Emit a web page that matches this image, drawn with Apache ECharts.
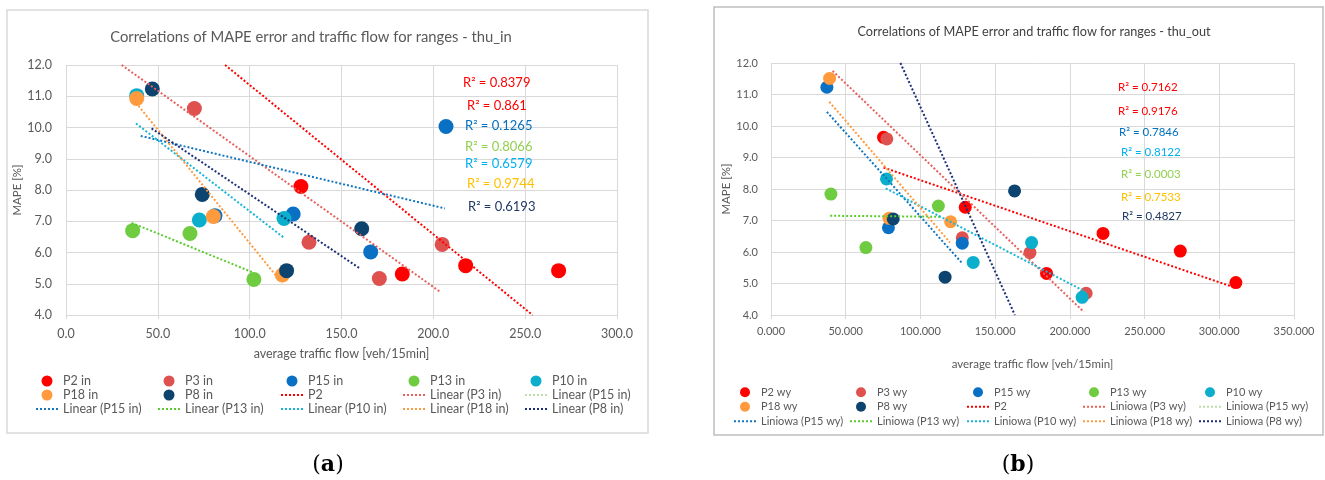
<!DOCTYPE html>
<html><head><meta charset="utf-8">
<script src="https://cdn.jsdelivr.net/npm/echarts@6/dist/echarts.min.js"></script>
<style>html,body{margin:0;padding:0;background:#fff}#c{width:1325px;height:480px}</style>
</head><body><div id="c"></div>
<script>
// ---------- tick labels ----------
const xTickLabelsA = ['0.0','50.0','100.0','150.0','200.0','250.0','300.0'];
const xTickLabelsB = ['0.000','50.000','100.000','150.000','200.000','250.000','300.000','350.000'];
const yTickLabels = ['4.0','5.0','6.0','7.0','8.0','9.0','10.0','11.0','12.0'];

// ---------- panel (a): thu_in  [flow, MAPE] ----------
const p2In  = [[127.9,8.11],[183.1,5.31],[217.6,5.58],[268.2,5.42]];
const p3In  = [[69.9,10.61],[132.3,6.33],[170.6,5.17],[204.8,6.26]];
const p15In = [[81.1,7.18],[123.7,7.23],[165.9,6.02],[206.9,10.03]];
const p13In = [[36.3,6.70],[67.5,6.61],[102.3,5.14]];
const p10In = [[38.5,11.02],[72.6,7.04],[118.7,7.09]];
const p18In = [[38.5,10.93],[80.2,7.15],[117.8,5.28]];
const p8In  = [[47.0,11.23],[74.2,7.86],[120.1,5.42],[161.0,6.76]];
// trend line end points
const trendP2In  = [[86.6,12.0],[254.0,4.0]];
const trendP3In  = [[30.3,12.0],[204.0,4.73]];
const trendP15In = [[40.7,9.73],[206.3,7.41]];
const trendP13In = [[35.7,6.95],[102.3,5.35]];
const trendP10In = [[38.1,10.13],[118.3,6.49]];
const trendP18In = [[38.1,10.79],[117.8,5.01]];
const trendP8In  = [[46.6,9.97],[160.0,5.49]];
const r2TextsA = ['R² = 0.8379','R² = 0.861','R² = 0.1265','R² = 0.8066','R² = 0.6579','R² = 0.9744','R² = 0.6193'];

// ---------- panel (b): thu_out ----------
const p2Wy  = [[75.3,9.64],[130.0,7.42],[184.4,5.32],[222.2,6.59],[273.9,6.03],[311.1,5.03]];
const p3Wy  = [[77.5,9.59],[128.0,6.45],[173.3,5.98],[210.9,4.69]];
const p15Wy = [[37.4,11.23],[78.6,6.77],[128.0,6.28]];
const p13Wy = [[40.1,7.84],[63.5,6.14],[112.0,7.46]];
const p10Wy = [[77.3,8.32],[135.3,5.67],[174.4,6.30],[208.2,4.56]];
const p18Wy = [[39.2,11.51],[79.0,7.07],[120.2,6.96]];
const p8Wy  = [[81.8,7.05],[116.5,5.20],[163.0,7.94]];
const trendP2Wy  = [[75.3,8.68],[307.3,4.92]];
const trendP3Wy  = [[41.2,11.75],[209.3,4.10]];
const trendP15Wy = [[37.4,10.45],[128.0,5.64]];
const trendP13Wy = [[39.6,7.15],[113.6,7.12]];
const trendP10Wy = [[76.8,8.02],[210.4,4.74]];
const trendP18Wy = [[39.0,10.77],[119.8,6.30]];
const trendP8Wy  = [[86.6,12.0],[163.2,4.0]];
const r2TextsB = ['R² = 0.7162','R² = 0.9176','R² = 0.7846','R² = 0.8122','R² = 0.0003','R² = 0.7533','R² = 0.4827'];

// ---------- styling ----------
const FONT = 'Lato, "Open Sans", sans-serif';
const GRAY = '#595959';
const COL = {P2:'#FF0000',P3:'#DE514E',P15:'#0A70C4',P13:'#6FCC41',P10:'#0BAFCB',P18:'#FF9A3D',P8:'#0D446F'};
const TCOL = {P2:'#FF0000',P3:'#E8605A',P15:'#1276C0',P13:'#5ACB2E',P10:'#16B6D8',P18:'#FF9A3D',P8:'#1B2F7A',pale:'#BFDDA8'};
const R2COL_A = ['#FF0000','#FF0000','#0070C0','#92D050','#00B0F0','#FFC000','#1F3864'];
const R2COL_B = ['#FF0000','#FF0000','#0070C0','#00B0F0','#92D050','#FFC000','#1F3864'];

function scatter(name, data, color, idx, size){
  return {type:'scatter', name, data, xAxisIndex:idx, yAxisIndex:idx, symbol:'circle', symbolSize:size,
          itemStyle:{color, opacity:1}, z:2, silent:true};
}
function trend(name, data, color, idx, width){
  return {type:'line', name, data, xAxisIndex:idx, yAxisIndex:idx, symbol:'none', z:3, silent:true,
          lineStyle:{color, width: width||2, type:[2,2]}, itemStyle:{color}};
}

const series = [
  scatter('P2 in', p2In, COL.P2, 0, 15),
  scatter('P3 in', p3In, COL.P3, 0, 15),
  scatter('P15 in', p15In, COL.P15, 0, 15),
  scatter('P13 in', p13In, COL.P13, 0, 15),
  scatter('P10 in', p10In, COL.P10, 0, 15),
  scatter('P18 in', p18In, COL.P18, 0, 15),
  scatter('P8 in', p8In, COL.P8, 0, 15),
  trend('P2', trendP2In, TCOL.P2, 0),
  trend('Linear (P3 in)', trendP3In, TCOL.P3, 0),
  trend('Linear (P15 in) ', [], TCOL.pale, 0, 1),
  trend('Linear (P15 in)', trendP15In, TCOL.P15, 0),
  trend('Linear (P13 in)', trendP13In, TCOL.P13, 0),
  trend('Linear (P10 in)', trendP10In, TCOL.P10, 0),
  trend('Linear (P18 in)', trendP18In, TCOL.P18, 0),
  trend('Linear (P8 in)', trendP8In, TCOL.P8, 0),

  scatter('P2 wy', p2Wy, COL.P2, 1, 13),
  scatter('P3 wy', p3Wy, COL.P3, 1, 13),
  scatter('P15 wy', p15Wy, COL.P15, 1, 13),
  scatter('P13 wy', p13Wy, COL.P13, 1, 13),
  scatter('P10 wy', p10Wy, COL.P10, 1, 13),
  scatter('P18 wy', p18Wy, COL.P18, 1, 13),
  scatter('P8 wy', p8Wy, COL.P8, 1, 13),
  trend('P2', trendP2Wy, TCOL.P2, 1),
  trend('Liniowa (P3 wy)', trendP3Wy, TCOL.P3, 1),
  trend('Liniowa (P15 wy) ', [], TCOL.pale, 1, 1),
  trend('Liniowa (P15 wy)', trendP15Wy, TCOL.P15, 1),
  trend('Liniowa (P13 wy)', trendP13Wy, TCOL.P13, 1),
  trend('Liniowa (P10 wy)', trendP10Wy, TCOL.P10, 1),
  trend('Liniowa (P18 wy)', trendP18Wy, TCOL.P18, 1),
  trend('Liniowa (P8 wy)', trendP8Wy, TCOL.P8, 1)
];
const lineNames = new Set(series.filter(s=>s.type==='line').map(s=>s.name));

const legColsA = [
  ['P2 in','P18 in','Linear (P15 in)'],
  ['P3 in','P8 in','Linear (P13 in)'],
  ['P15 in','P2','Linear (P10 in)'],
  ['P13 in','Linear (P3 in)','Linear (P18 in)'],
  ['P10 in','Linear (P15 in) ','Linear (P8 in)']
];
const legColsB = [
  ['P2 wy','P18 wy','Liniowa (P15 wy)'],
  ['P3 wy','P8 wy','Liniowa (P13 wy)'],
  ['P15 wy','P2','Liniowa (P10 wy)'],
  ['P13 wy','Liniowa (P3 wy)','Liniowa (P18 wy)'],
  ['P10 wy','Liniowa (P15 wy) ','Liniowa (P8 wy)']
];
const legLeftA = [35,157,280,402,524];
const legLeftB = [733,849,966,1082,1198];
function legItems(c){
  return c.map(n => lineNames.has(n) ? {name:n, itemStyle:{opacity:0, borderWidth:0}} : {name:n});
}
const legend = [];
legColsA.forEach((c,i)=>legend.push({data:legItems(c), orient:'vertical', left:legLeftA[i], top:374, padding:0, itemWidth:22, itemHeight:11, itemGap:0,
  selectedMode:false, textStyle:{color:GRAY, fontSize:12.5, fontFamily:FONT, lineHeight:14}}));
legColsB.forEach((c,i)=>legend.push({data:legItems(c), orient:'vertical', left:legLeftB[i], top:385, padding:0, itemWidth:22, itemHeight:10, itemGap:0,
  selectedMode:false, textStyle:{color:GRAY, fontSize:11, fontFamily:FONT, lineHeight:14.5}}));

function xAxis(idx, max, labels, fs, margin, nameGap, nameFs){
  return {type:'value', gridIndex:idx, min:0, max, interval:50,
    name:'average traffic flow [veh/15min]', nameLocation:'middle', nameGap,
    nameTextStyle:{color:GRAY, fontSize:nameFs, fontFamily:FONT},
    axisLine:{show:true, lineStyle:{color:'#D9D9D9'}},
    axisTick:{show:true, length:4, lineStyle:{color:'#D9D9D9'}},
    axisLabel:{color:GRAY, fontSize:fs, fontFamily:FONT, margin, formatter:v=>labels[Math.round(v/50)]},
    splitLine:{show:true, lineStyle:{color:'#D9D9D9', width:1}}};
}
function yAxis(idx, fs, margin, nameGap){
  return {type:'value', gridIndex:idx, min:4, max:12, interval:1,
    name:'MAPE [%]', nameLocation:'middle', nameGap, nameRotate:90,
    nameTextStyle:{color:GRAY, fontSize:11.5, fontFamily:FONT},
    axisLine:{show:false}, axisTick:{show:false},
    axisLabel:{color:GRAY, fontSize:fs, fontFamily:FONT, margin, formatter:v=>yTickLabels[Math.round(v-4)]},
    splitLine:{show:true, lineStyle:{color:'#D9D9D9', width:1}}};
}

const r2LeftA = [463,467,465,465,465,467,468];
const r2YA = [83,106,126,147,164,184,207];
const r2LeftB = [1118,1118,1119,1121,1121,1121,1122];
const r2YB = [87,111,132,152,174,197,216];

const serif = '"DejaVu Serif", serif';
const graphic = [
  {type:'rect', shape:{x:7,y:10,width:641,height:423}, style:{fill:'none', stroke:'#D9D9D9', lineWidth:1.5}, silent:true, z:-1},
  {type:'rect', shape:{x:714,y:7,width:609,height:428}, style:{fill:'none', stroke:'#BFBFBF', lineWidth:1.5}, silent:true, z:-1},
  {type:'text', style:{text:'Correlations of MAPE error and traffic flow for ranges - thu_in', x:311, y:37,
     textAlign:'center', align:'center', textVerticalAlign:'middle', verticalAlign:'middle', fill:GRAY, font:'14.8px '+FONT}},
  {type:'text', style:{text:'Correlations of MAPE error and traffic flow for ranges - thu_out', x:1034, y:32,
     textAlign:'center', align:'center', textVerticalAlign:'middle', verticalAlign:'middle', fill:'#404040', font:'12.7px '+FONT}},
  {type:'text', style:{text:'{n|(}{b|a}{n|)}', x:328, y:465, textAlign:'center', align:'center', textVerticalAlign:'middle', verticalAlign:'middle',
     rich:{n:{fontSize:22, fontFamily:serif, fill:'#000', color:'#000'}, b:{fontSize:22, fontWeight:'bold', fontFamily:serif, fill:'#000', color:'#000'}}}},
  {type:'text', style:{text:'{n|(}{b|b}{n|)}', x:1018, y:465, textAlign:'center', align:'center', textVerticalAlign:'middle', verticalAlign:'middle',
     rich:{n:{fontSize:22, fontFamily:serif, fill:'#000', color:'#000'}, b:{fontSize:22, fontWeight:'bold', fontFamily:serif, fill:'#000', color:'#000'}}}}
];
r2TextsA.forEach((t,i)=>graphic.push({type:'text', z:10, style:{text:t, x:r2LeftA[i], y:r2YA[i], textVerticalAlign:'middle', verticalAlign:'middle', fill:R2COL_A[i], font:'13px '+FONT}}));
r2TextsB.forEach((t,i)=>graphic.push({type:'text', z:10, style:{text:t, x:r2LeftB[i], y:r2YB[i], textVerticalAlign:'middle', verticalAlign:'middle', fill:R2COL_B[i], font:'11.5px '+FONT}}));

const chart = echarts.init(document.getElementById('c'), null, {renderer:'canvas'});
chart.setOption({
  animation:false,
  backgroundColor:'#ffffff',
  grid:[{left:66, top:65, width:551, height:250}, {left:771, top:63, width:523, height:252}],
  xAxis:[xAxis(0,300,xTickLabelsA,12.5,12,32,12.5), xAxis(1,350,xTickLabelsB,11,11,43,11.5)],
  yAxis:[yAxis(0,12.5,14,40), yAxis(1,11,13,36)],
  legend, series, graphic
});
</script></body></html>
